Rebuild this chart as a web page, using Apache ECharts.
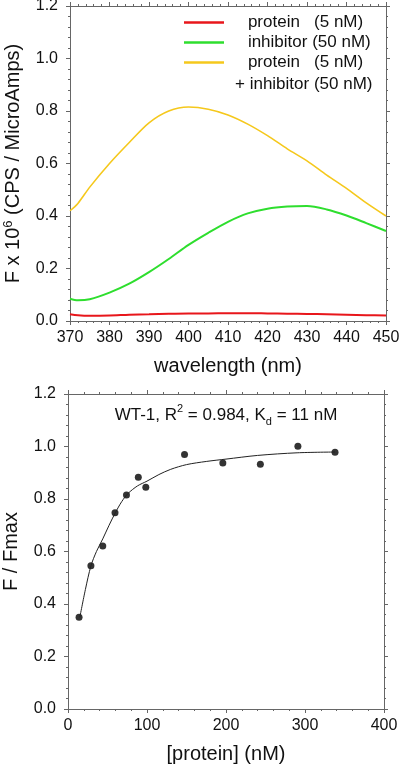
<!DOCTYPE html>
<html>
<head>
<meta charset="utf-8">
<script src="https://cdn.jsdelivr.net/npm/echarts@6/dist/echarts.min.js"></script>
<style>
html,body{margin:0;padding:0;background:#fff;}
#chart{width:400px;height:766px;}
</style>
</head>
<body>
<div id="chart"></div>
<script>
// ---- Top panel: emission spectra ----
const wavelengths = [370, 372, 375, 380, 385, 390, 395, 400, 405, 410, 415, 420, 425, 430, 435, 440, 445, 450];
const proteinOnly = [0.026, 0.022, 0.020, 0.021, 0.024, 0.026, 0.028, 0.029, 0.029, 0.030, 0.030, 0.029, 0.028, 0.027, 0.026, 0.024, 0.022, 0.021];
const inhibitorOnly = [0.085, 0.079, 0.083, 0.108, 0.142, 0.186, 0.236, 0.290, 0.336, 0.378, 0.410, 0.428, 0.436, 0.438, 0.425, 0.402, 0.373, 0.343];
const proteinPlusInhibitor = [0.420, 0.448, 0.510, 0.600, 0.680, 0.755, 0.800, 0.815, 0.807, 0.785, 0.750, 0.706, 0.656, 0.610, 0.556, 0.505, 0.450, 0.400];
const seriesNames = ['protein   (5 nM)', 'inhibitor (50 nM)', 'protein   (5 nM) ', '+ inhibitor (50 nM)'];

// ---- Bottom panel: titration ----
const proteinConc = [14, 29, 44, 59.5, 74, 89, 98.5, 147.5, 196, 243.5, 291, 338];
const fNorm = [0.350, 0.546, 0.621, 0.748, 0.815, 0.883, 0.845, 0.970, 0.937, 0.932, 1.001, 0.978];
const fitConc = [15, 22, 29, 36, 44, 52, 60, 68, 76, 88, 100, 115, 130, 150, 175, 200, 240, 290, 338];
const fitValues = [0.350, 0.455, 0.545, 0.600, 0.648, 0.700, 0.748, 0.790, 0.821, 0.850, 0.868, 0.893, 0.913, 0.931, 0.943, 0.952, 0.966, 0.976, 0.979];

const yTicks = [0, 1.2, 0.2];
const FONT = 'Liberation Sans, Arial, sans-serif';
const AX = '#666';
const TXT = '#111';

const zip = (xs, ys) => xs.map((x, i) => [x, ys[i]]);

function mainX(grid, min, max, interval, name) {
  return {
    gridIndex: grid, type: 'value', position: 'bottom', min, max, interval,
    axisLine: { show: true, onZero: false, lineStyle: { color: AX, width: 1 } },
    axisTick: { show: true, inside: false, length: 4, lineStyle: { color: AX } },
    minorTick: { show: true, splitNumber: 5, length: 2, lineStyle: { color: AX } },
    axisLabel: { fontSize: 16, color: TXT, fontFamily: FONT, margin: 9 },
    splitLine: { show: false },
    name, nameLocation: 'middle', nameGap: 35,
    nameTextStyle: { fontSize: 20, color: TXT, fontFamily: FONT }
  };
}
function frameX(grid, min, max, interval) {
  return {
    gridIndex: grid, type: 'value', position: 'top', min, max, interval,
    axisLine: { show: true, onZero: false, lineStyle: { color: AX, width: 1 } },
    axisTick: { show: true, inside: false, length: 4, lineStyle: { color: AX } },
    minorTick: { show: true, splitNumber: 5, length: 2, lineStyle: { color: AX } },
    axisLabel: { show: false }, splitLine: { show: false }
  };
}
function mainY(grid, name, rich) {
  return {
    gridIndex: grid, type: 'value', position: 'left', min: yTicks[0], max: yTicks[1], interval: yTicks[2],
    axisLine: { show: true, onZero: false, lineStyle: { color: AX, width: 1 } },
    axisTick: { show: true, inside: false, length: 4, lineStyle: { color: AX } },
    minorTick: { show: true, splitNumber: 5, length: 2, lineStyle: { color: AX } },
    axisLabel: { fontSize: 16, color: TXT, fontFamily: FONT, margin: 12, formatter: v => v.toFixed(1) },
    splitLine: { show: false },
    name, nameLocation: 'middle', nameGap: 46, nameRotate: 90,
    nameTextStyle: { fontSize: 20, color: TXT, fontFamily: FONT, lineHeight: 22, rich: rich || {} }
  };
}
function frameY(grid) {
  return {
    gridIndex: grid, type: 'value', position: 'right', min: yTicks[0], max: yTicks[1], interval: yTicks[2],
    axisLine: { show: true, onZero: false, lineStyle: { color: AX, width: 1 } },
    axisTick: { show: true, inside: false, length: 4, lineStyle: { color: AX } },
    minorTick: { show: true, splitNumber: 5, length: 2, lineStyle: { color: AX } },
    axisLabel: { show: false }, splitLine: { show: false }
  };
}

const chart = echarts.init(document.getElementById('chart'), null, { renderer: 'canvas' });
chart.setOption({
  backgroundColor: '#fff',
  animation: false,
  textStyle: { fontFamily: FONT },
  grid: [
    { left: 70, right: 14, top: 6, height: 315, containLabel: false, outerBoundsMode: 'none' },
    { left: 68, right: 16, top: 394, height: 315, containLabel: false, outerBoundsMode: 'none' }
  ],
  xAxis: [
    mainX(0, 370, 450, 10, 'wavelength (nm)'),
    frameX(0, 370, 450, 10),
    mainX(1, 0, 400, 100, '[protein] (nM)'),
    frameX(1, 0, 400, 100)
  ],
  yAxis: [
    mainY(0, 'F x 10{sup|6} (CPS / MicroAmps)', { sup: { fontSize: 13, verticalAlign: 'top', fontFamily: FONT, color: TXT } }),
    frameY(0),
    mainY(1, 'F / Fmax'),
    frameY(1)
  ],
  legend: {
    data: seriesNames.slice(0, 3),
    orient: 'vertical', left: 184, top: 14, padding: 0,
    itemWidth: 40, itemHeight: 2.5, itemGap: 3,
    icon: 'rect', selectedMode: false,
    formatter: n => '    ' + n.trim(),
    textStyle: { fontSize: 17, color: TXT, fontFamily: FONT }
  },
  graphic: [
    {
      type: 'text', left: 235, top: 76,
      style: { text: seriesNames[3], fontSize: 17, fill: TXT, fontFamily: FONT }
    },
    {
      type: 'text', x: 226, y: 415,
      style: {
        text: 'WT-1, R{sup|2} = 0.984, K{sub|d} = 11 nM',
        fontSize: 17, fill: TXT, fontFamily: FONT, align: 'center', verticalAlign: 'middle',
        lineHeight: 24,
        rich: {
          sup: { fontSize: 11, verticalAlign: 'top', fill: TXT, fontFamily: FONT },
          sub: { fontSize: 11, verticalAlign: 'bottom', fill: TXT, fontFamily: FONT }
        }
      }
    }
  ],
  series: [
    { name: seriesNames[0], type: 'line', xAxisIndex: 0, yAxisIndex: 0, data: zip(wavelengths, proteinOnly),
      showSymbol: false, smooth: 0.3, color: '#e8161b', lineStyle: { width: 2, color: '#e8161b' } },
    { name: seriesNames[1], type: 'line', xAxisIndex: 0, yAxisIndex: 0, data: zip(wavelengths, inhibitorOnly),
      showSymbol: false, smooth: 0.3, color: '#2ede2e', lineStyle: { width: 2, color: '#2ede2e' } },
    { name: seriesNames[2], type: 'line', xAxisIndex: 0, yAxisIndex: 0, data: zip(wavelengths, proteinPlusInhibitor),
      showSymbol: false, smooth: 0.3, color: '#f5c81c', lineStyle: { width: 1.6, color: '#f5c81c' } },
    { name: 'fit', type: 'line', xAxisIndex: 2, yAxisIndex: 2, data: zip(fitConc, fitValues),
      showSymbol: false, smooth: 0.3, lineStyle: { width: 1, color: '#222' } },
    { name: 'data', type: 'scatter', xAxisIndex: 2, yAxisIndex: 2, data: zip(proteinConc, fNorm),
      symbol: 'circle', symbolSize: 7, itemStyle: { color: '#000' } }
  ]
});
</script>
</body>
</html>
